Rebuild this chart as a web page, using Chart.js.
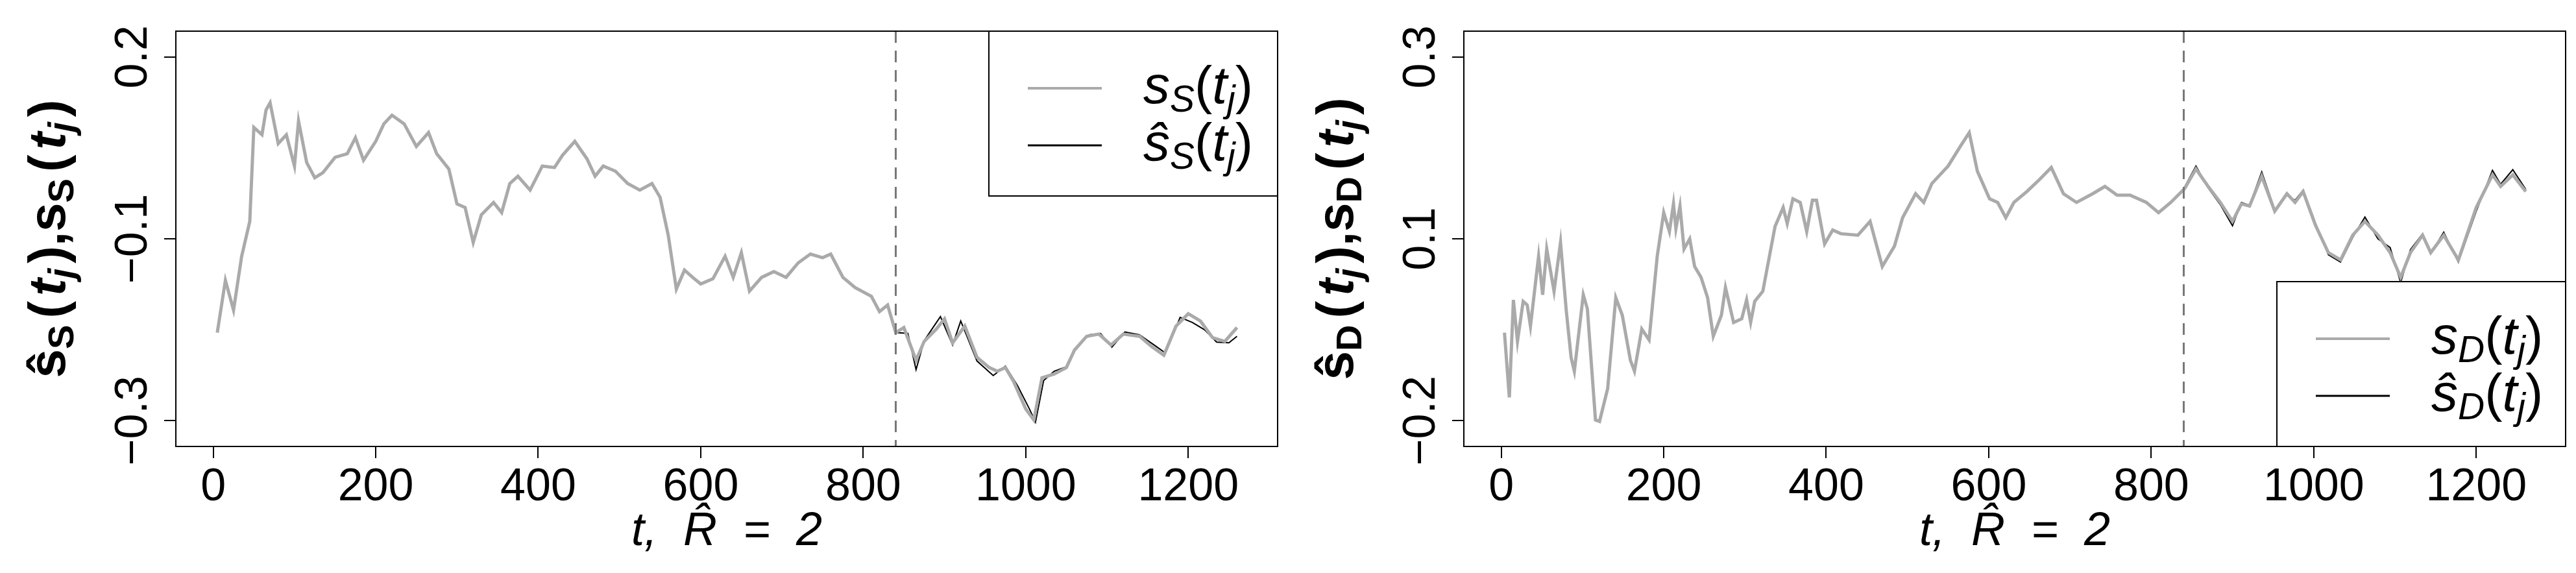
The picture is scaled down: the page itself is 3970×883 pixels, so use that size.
<!DOCTYPE html>
<html>
<head>
<meta charset="utf-8">
<script src="https://cdn.jsdelivr.net/npm/chart.js@4.4.0/dist/chart.umd.min.js"></script>
<style>
  html, body { margin: 0; padding: 0; background: #fff; }
  .wrap { display: flex; width: 3970px; height: 883px; }
  .cell { width: 1985px; height: 883px; position: relative; }
</style>
</head>
<body>
<div class="wrap">
  <div class="cell"><canvas id="chartS"></canvas></div>
  <div class="cell"><canvas id="chartD"></canvas></div>
</div>
<script>
// === DATA ===
const xTicks = [0, 200, 400, 600, 800, 1000, 1200];
const splitT = 840;

// left panel: tick positions and the labels printed at them
const sTickPos = [0.2, -0.05, -0.3];
const sTickLabels = ['0.2', '\u22120.1', '\u22120.3'];
const sGrayT = [5, 15, 25, 35, 45, 50, 60, 65, 70, 80, 90, 100, 105, 115, 125, 135, 150, 165, 175, 185, 200, 210, 220, 235, 250, 265, 275, 290, 300, 310, 320, 330, 345, 355, 365, 375, 390, 405, 420, 430, 445, 460, 470, 480, 495, 510, 525, 540, 550, 560, 570, 580, 590, 600, 615, 630, 640, 650, 660, 675, 690, 705, 720, 735, 750, 760, 775, 790, 810, 820, 830, 840, 850, 865, 875, 890, 900, 910, 925, 940, 955, 965, 975, 985, 1000, 1010, 1020, 1035, 1050, 1060, 1075, 1090, 1105, 1120, 1140, 1155, 1170, 1185, 1200, 1215, 1230, 1245, 1260];
const sGrayV = [-0.179, -0.107, -0.148, -0.074, -0.026, 0.103, 0.093, 0.127, 0.137, 0.081, 0.093, 0.050, 0.112, 0.055, 0.034, 0.041, 0.062, 0.067, 0.089, 0.058, 0.084, 0.108, 0.120, 0.108, 0.077, 0.096, 0.067, 0.046, -0.002, -0.007, -0.055, -0.017, 0.000, -0.014, 0.026, 0.036, 0.017, 0.050, 0.048, 0.065, 0.084, 0.060, 0.036, 0.050, 0.043, 0.026, 0.017, 0.026, 0.007, -0.045, -0.119, -0.093, -0.103, -0.112, -0.105, -0.074, -0.103, -0.069, -0.122, -0.103, -0.095, -0.103, -0.083, -0.071, -0.076, -0.071, -0.103, -0.117, -0.129, -0.150, -0.141, -0.179, -0.172, -0.217, -0.191, -0.174, -0.160, -0.193, -0.170, -0.213, -0.227, -0.232, -0.227, -0.246, -0.284, -0.299, -0.241, -0.236, -0.227, -0.203, -0.184, -0.181, -0.196, -0.181, -0.184, -0.198, -0.210, -0.170, -0.153, -0.163, -0.186, -0.191, -0.172];
const sHatT = [840, 855, 865, 875, 895, 910, 920, 940, 960, 975, 990, 1005, 1012, 1022, 1035, 1050, 1062, 1078, 1092, 1106, 1122, 1140, 1158, 1172, 1190, 1205, 1220, 1235, 1250, 1260];
const sHatV = [-0.179, -0.180, -0.230, -0.190, -0.157, -0.196, -0.163, -0.218, -0.238, -0.225, -0.252, -0.285, -0.302, -0.245, -0.232, -0.226, -0.200, -0.182, -0.180, -0.199, -0.178, -0.182, -0.196, -0.207, -0.158, -0.165, -0.175, -0.192, -0.193, -0.184];

// right panel
const dTickPos = [0.3, 0.05, -0.2];
const dTickLabels = ['0.3', '0.1', '\u22120.2'];
const dGrayT = [4, 10, 15, 20, 27, 32, 36, 46, 51, 56, 65, 73, 80, 86, 90, 101, 106, 116, 121, 131, 141, 149, 159, 164, 173, 182, 192, 200, 207, 212, 215, 220, 225, 232, 238, 246, 254, 261, 271, 276, 286, 296, 302, 307, 312, 322, 337, 347, 352, 359, 368, 376, 383, 388, 398, 408, 418, 439, 454, 469, 484, 494, 510, 520, 530, 540, 550, 565, 576, 586, 601, 611, 621, 631, 647, 662, 677, 692, 708, 728, 743, 758, 774, 794, 809, 824, 841, 855, 870, 885, 900, 911, 921, 936, 952, 967, 977, 987, 1002, 1018, 1033, 1048, 1063, 1079, 1094, 1107, 1119, 1134, 1144, 1160, 1178, 1200, 1220, 1230, 1245, 1261];
const dGrayV = [-0.079, -0.168, -0.034, -0.091, -0.036, -0.041, -0.070, 0.026, -0.027, 0.036, -0.022, 0.045, -0.048, -0.113, -0.132, -0.027, -0.046, -0.199, -0.201, -0.156, -0.031, -0.055, -0.117, -0.132, -0.074, -0.089, 0.026, 0.086, 0.060, 0.098, 0.064, 0.095, 0.036, 0.050, 0.012, -0.003, -0.031, -0.084, -0.055, -0.017, -0.065, -0.060, -0.034, -0.065, -0.036, -0.022, 0.067, 0.093, 0.071, 0.105, 0.100, 0.060, 0.103, 0.103, 0.043, 0.062, 0.057, 0.055, 0.074, 0.012, 0.040, 0.079, 0.112, 0.100, 0.126, 0.138, 0.150, 0.177, 0.196, 0.143, 0.105, 0.100, 0.079, 0.100, 0.115, 0.131, 0.148, 0.112, 0.100, 0.112, 0.122, 0.110, 0.110, 0.100, 0.086, 0.100, 0.119, 0.146, 0.122, 0.100, 0.074, 0.098, 0.095, 0.136, 0.088, 0.112, 0.100, 0.115, 0.069, 0.031, 0.021, 0.055, 0.074, 0.055, 0.031, -0.003, 0.031, 0.055, 0.031, 0.055, 0.021, 0.093, 0.138, 0.122, 0.138, 0.115];
const dHatT = [840, 855, 870, 885, 900, 911, 921, 936, 952, 967, 977, 987, 1002, 1018, 1033, 1048, 1063, 1079, 1094, 1107, 1119, 1134, 1144, 1160, 1178, 1200, 1220, 1230, 1245, 1261];
const dHatV = [0.119, 0.150, 0.120, 0.097, 0.068, 0.100, 0.096, 0.142, 0.090, 0.110, 0.103, 0.117, 0.072, 0.028, 0.018, 0.052, 0.080, 0.050, 0.038, -0.010, 0.035, 0.057, 0.030, 0.059, 0.018, 0.088, 0.144, 0.125, 0.145, 0.118];

const FONT = '"Liberation Sans", Arial, sans-serif';
const GRAY = '#aaaaaa';
const PADV = 0.5 * 42 / 1046 * 1.767; // space between outer ticks and the frame

const toPts = (ts, vs) => ts.map((t, i) => ({ x: t, y: vs[i] }));

// draw text made of segments, some of them subscript
function richWidth(ctx, segs, size) {
    let w = 0;
    segs.forEach(s => {
        ctx.font = (s.it ? 'italic ' : '') + (s.b ? 'bold ' : '') + Math.round(s.sub ? size * 0.7 : size) + 'px ' + FONT;
        w += ctx.measureText(s.t).width + (s.gap || 0);
    });
    return w;
}
function drawRich(ctx, segs, x, y, size) {
    ctx.textBaseline = 'middle';
    ctx.textAlign = 'left';
    segs.forEach(s => {
        const sz = s.sub ? size * 0.7 : size;
        ctx.font = (s.it ? 'italic ' : '') + (s.b ? 'bold ' : '') + Math.round(sz) + 'px ' + FONT;
        ctx.fillText(s.t, x, s.sub ? y + size * 0.25 : y);
        x += ctx.measureText(s.t).width + (s.gap || 0);
    });
}

function titleSegs(k) {
    return [{ t: '\u015D', b: true }, { t: k, b: true, sub: true, gap: 10 }, { t: '(', b: true, gap: 8 }, { t: 't', b: true, it: true }, { t: 'j', b: true, it: true, sub: true, gap: 8 }, { t: '),', b: true }, { t: 's', b: true }, { t: k, b: true, sub: true, gap: 10 }, { t: '(', b: true, gap: 8 }, { t: 't', b: true, it: true }, { t: 'j', b: true, it: true, sub: true, gap: 8 }, { t: ')', b: true }];
}
function legendSegs(k, hat) {
    return [{ t: hat ? '\u015D' : 's', it: true }, { t: k, it: true, sub: true }, { t: '(' }, { t: 't', it: true }, { t: 'j', it: true, sub: true }, { t: ')' }];
}

function makeChart(id, opts) {
    const ctx = document.getElementById(id).getContext('2d');
    const decor = {
        id: 'decor',
        afterDraw(chart) {
            const c = chart.ctx;
            const a = chart.chartArea;
            const xs = chart.scales.x, ys = chart.scales.y;
            c.save();
            // split line
            c.strokeStyle = '#777777';
            c.lineWidth = 3;
            c.setLineDash([18, 12]);
            const px = xs.getPixelForValue(splitT);
            c.beginPath(); c.moveTo(px, a.top); c.lineTo(px, a.bottom); c.stroke();
            c.setLineDash([]);
            // y tick labels, rotated
            c.fillStyle = '#000';
            c.font = '70px ' + FONT;
            opts.tickPos.forEach((v, i) => {
                c.save();
                c.translate(a.left - 64, ys.getPixelForValue(v));
                c.rotate(-Math.PI / 2);
                c.textAlign = 'center';
                c.textBaseline = 'middle';
                c.fillText(opts.tickLabels[i], 0, 0);
                c.restore();
            });
            // y title
            c.save();
            c.translate(78, (a.top + a.bottom) / 2);
            c.rotate(-Math.PI / 2);
            const w = richWidth(c, opts.yTitle, 80);
            drawRich(c, opts.yTitle, -w / 2, 0, 80);
            c.restore();
            // legend box
            const L = opts.legend;
            c.fillStyle = '#fff';
            c.fillRect(L.x, L.y, a.right - L.x, L.h);
            c.strokeStyle = '#000';
            c.lineWidth = 2;
            c.strokeRect(L.x, L.y, a.right - L.x, L.h);
            L.items.forEach((it, i) => {
                const yy = L.y + L.rows[i];
                c.strokeStyle = it.color;
                c.lineWidth = it.width;
                c.beginPath(); c.moveTo(L.x + 60, yy); c.lineTo(L.x + 174, yy); c.stroke();
                c.fillStyle = '#000';
                drawRich(c, it.segs, L.x + 238, yy, 82);
            });
            // frame
            c.strokeStyle = '#000';
            c.lineWidth = 2;
            c.strokeRect(a.left, a.top, a.right - a.left, a.bottom - a.top);
            c.restore();
        }
    };
    return new Chart(ctx, {
        type: 'line',
        data: {
            datasets: [{
                data: opts.gray,
                borderColor: GRAY,
                borderWidth: 5,
                pointRadius: 0,
                tension: 0
            }, {
                data: opts.hat,
                borderColor: '#000000',
                borderWidth: 2,
                pointRadius: 0,
                tension: 0
            }]
        },
        options: {
            responsive: true,
            maintainAspectRatio: false,
            animation: false,
            layout: { padding: { top: 48, right: 16, left: 0, bottom: 0 } },
            plugins: { legend: { display: false }, tooltip: { enabled: false } },
            scales: {
                x: {
                    type: 'linear',
                    min: -46,
                    max: 1310,
                    afterBuildTicks: s => { s.ticks = xTicks.map(v => ({ value: v })); },
                    afterFit: s => { s.height = 195; },
                    grid: { drawOnChartArea: false, drawTicks: true, tickLength: 18, color: '#000', lineWidth: 2 },
                    border: { display: false },
                    ticks: { color: '#000', font: { family: FONT, size: 70 }, padding: 4, maxRotation: 0, callback: v => String(v) },
                    title: {
                        display: true,
                        text: 't,  R\u0302  =  2',
                        color: '#000',
                        font: { family: FONT, size: 72, style: 'italic' },
                        padding: { top: 0, bottom: 20 }
                    }
                },
                y: {
                    min: opts.yMin,
                    max: opts.yMax,
                    afterBuildTicks: s => { s.ticks = opts.tickPos.map(v => ({ value: v })); },
                    afterFit: s => { s.width = 271; },
                    grid: { drawOnChartArea: false, drawTicks: true, tickLength: 18, color: '#000', lineWidth: 2 },
                    border: { display: false },
                    ticks: { callback: () => '', font: { size: 10 } }
                }
            }
        },
        plugins: [decor]
    });
}

const legendRows = [88, 176];
makeChart('chartS', {
    gray: toPts(sGrayT, sGrayV),
    hat: toPts(sHatT, sHatV),
    tickPos: sTickPos,
    tickLabels: sTickLabels,
    yMin: -0.3 - PADV,
    yMax: 0.2 + PADV,
    yTitle: titleSegs('S'),
    legend: {
        x: 1524, y: 48, h: 254, rows: legendRows,
        items: [
            { color: GRAY, width: 4, segs: legendSegs('S', false) },
            { color: '#000', width: 3, segs: legendSegs('S', true) }
        ]
    }
});

makeChart('chartD', {
    gray: toPts(dGrayT, dGrayV),
    hat: toPts(dHatT, dHatV),
    tickPos: dTickPos,
    tickLabels: dTickLabels,
    yMin: -0.2 - PADV,
    yMax: 0.3 + PADV,
    yTitle: titleSegs('D'),
    legend: {
        x: 1524, y: 434, h: 254, rows: legendRows,
        items: [
            { color: GRAY, width: 4, segs: legendSegs('D', false) },
            { color: '#000', width: 3, segs: legendSegs('D', true) }
        ]
    }
});
</script>
</body>
</html>
